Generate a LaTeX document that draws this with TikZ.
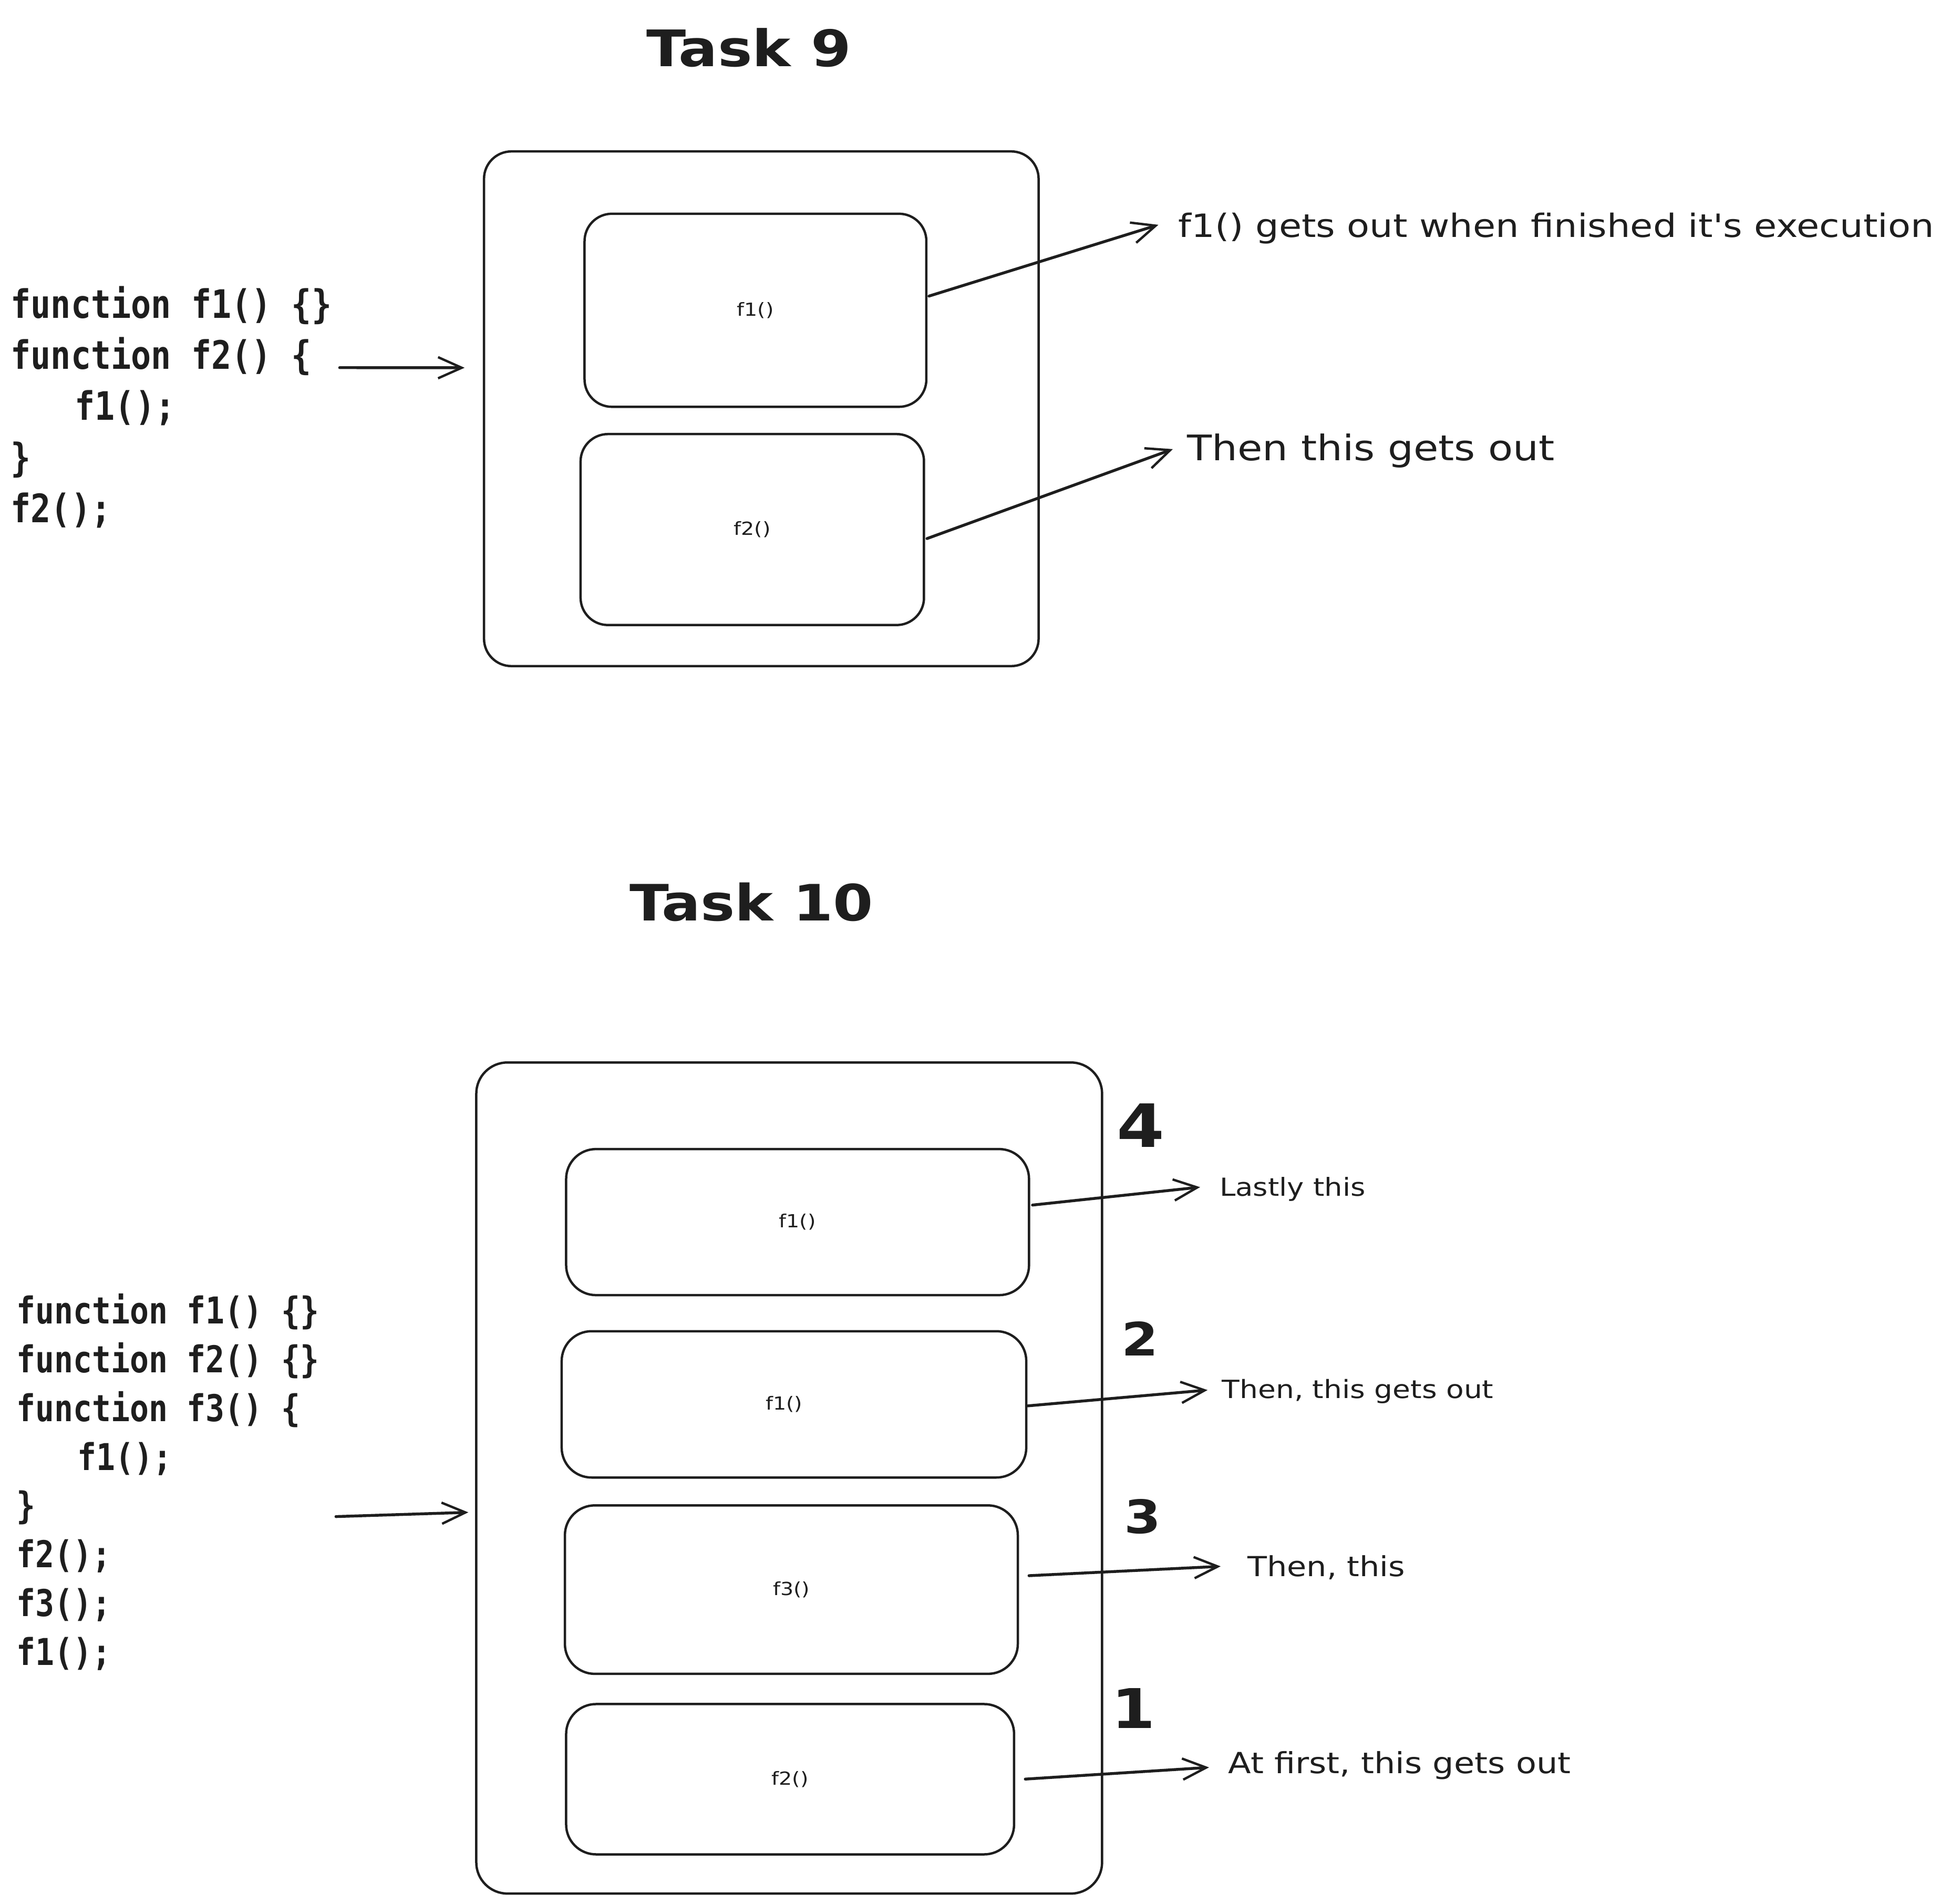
\documentclass[tikz,border=0pt]{standalone}
\usepackage{fontspec}
\newfontfamily\hand[FakeStretch=1.15]{DejaVu Sans}
\newfontfamily\codefont[FakeStretch=0.85]{DejaVu Sans Mono}
\usetikzlibrary{arrows.meta}
\definecolor{ink}{HTML}{1E1E1E}
\tikzset{
  stackbox/.style={draw=ink, line width=1.9pt, rounded corners=22pt, inner sep=0pt,
    font=\hand\fontsize{14.5}{16}\selectfont, text=ink},
  lbl/.style={inner sep=0pt, anchor=base west, text=ink},
  num/.style={inner sep=0pt, anchor=center, text=ink},
  codeA/.style={inner sep=0pt, anchor=base west, text=ink, font=\codefont\bfseries\fontsize{31.5}{40}\selectfont},
  codeB/.style={inner sep=0pt, anchor=base west, text=ink, font=\codefont\bfseries\fontsize{29.7}{38}\selectfont},
  flow/.style={draw=ink, line width=2.3pt, line cap=round,
    -{Straight Barb[length=19pt,width=17pt,line width=1.9pt]}},
}
\begin{document}
\begin{tikzpicture}[x=1pt,y=-1pt]
\fill[white] (0,0) rectangle (1568,1530.4);
\useasboundingbox (0,0) rectangle (1568,1530.4);

% ---------------- Task 9 ----------------
\node[inner sep=0pt, anchor=base, text=ink, font=\hand\bfseries\fontsize{40.5}{46}\selectfont] (t9title) at (602,53.3) {Task 9};

\node[stackbox, minimum width=445.7pt, minimum height=413.7pt] (t9outer) at (611.85,328.55) {};
\node[stackbox, minimum width=274.7pt, minimum height=155.2pt] (t9f1) at (607.15,249.4) {f1()};
\node[stackbox, minimum width=276pt, minimum height=153.5pt] (t9f2) at (604.6,425.65) {f2()};

\node[codeA] (c9a) at (8.5,255.5) {function f1() \{\}};
\node[codeA] (c9b) at (8.5,296.6) {function f2() \{};
\node[codeA] (c9c) at (60,337.7) {f1();};
\node[codeA] (c9d) at (8.5,378.8) {\}};
\node[codeA] (c9e) at (8.5,420) {f2();};

\coordinate (c9arrS) at (273,295.5);
\coordinate (c9arrE) at (373.4,295.6);
\draw[flow] (c9arrS) -- (c9arrE);

\node[lbl, font=\hand\fontsize{25.8}{30}\selectfont] (t9l1) at (947,190.7) {f1() gets out when finished it's execution};
\node[lbl, font=\hand\fontsize{28.3}{32}\selectfont] (t9l2) at (954,370) {Then this gets out};

\coordinate (t9a1s) at (746.6,238);
\coordinate (t9a1e) at (931,180.7);
\coordinate (t9a2s) at (745,432.9);
\coordinate (t9a2e) at (942.6,361);
\draw[flow] (t9a1s) -- (t9a1e);
\draw[flow] (t9a2s) -- (t9a2e);

% ---------------- Task 10 ----------------
\node[inner sep=0pt, anchor=base, text=ink, font=\hand\bfseries\fontsize{40.3}{46}\selectfont] (t10title) at (604,740) {Task 10};

\node[stackbox, rounded corners=25pt, minimum width=502.9pt, minimum height=668pt] (t10outer) at (634.25,1188) {};
\node[stackbox, rounded corners=24pt, minimum width=372pt, minimum height=117.4pt] (t10a) at (641,982.3) {f1()};
\node[stackbox, rounded corners=24pt, minimum width=373.4pt, minimum height=117.6pt] (t10b) at (638.1,1128.8) {\hspace{-16pt}f1()};
\node[stackbox, rounded corners=24pt, minimum width=364pt, minimum height=135.4pt] (t10c) at (636,1277.7) {f3()};
\node[stackbox, rounded corners=24pt, minimum width=360pt, minimum height=120.8pt] (t10d) at (635,1430.1) {f2()};

\node[num, font=\hand\bfseries\fontsize{48}{54}\selectfont] (n4) at (916.9,904.6) {4};
\node[num, font=\hand\bfseries\fontsize{37}{42}\selectfont] (n2) at (916,1075.8) {2};
\node[num, font=\hand\bfseries\fontsize{37}{42}\selectfont] (n3) at (918.5,1219) {3};
\node[num, font=\hand\bfseries\fontsize{44}{50}\selectfont] (n1) at (911,1373) {1};

\node[lbl, font=\hand\fontsize{20}{24}\selectfont] (t10l4) at (980,961.3) {Lastly this};
\node[lbl, font=\hand\fontsize{20.2}{24}\selectfont] (t10l2) at (982,1124) {Then, this gets out};
\node[lbl, font=\hand\fontsize{22.2}{26}\selectfont] (t10l3) at (1002.5,1267) {Then, this};
\node[lbl, font=\hand\fontsize{23.4}{27}\selectfont] (t10l1) at (987,1425.6) {At first, this gets out};

\coordinate (t10aS) at (829.8,968.6);
\coordinate (t10aE) at (964.5,954.2);
\coordinate (t10bS) at (826,1130);
\coordinate (t10bE) at (970.5,1117.3);
\coordinate (t10cS) at (827,1266.5);
\coordinate (t10cE) at (981,1259);
\coordinate (t10dS) at (824,1430);
\coordinate (t10dE) at (971.7,1420.6);
\draw[flow] (t10aS) -- (t10aE);
\draw[flow] (t10bS) -- (t10bE);
\draw[flow] (t10cS) -- (t10cE);
\draw[flow] (t10dS) -- (t10dE);

\node[codeB] (c10a) at (13.2,1064) {function f1() \{\}};
\node[codeB] (c10b) at (13.2,1103.2) {function f2() \{\}};
\node[codeB] (c10c) at (13.2,1142.4) {function f3() \{};
\node[codeB] (c10d) at (62,1181.6) {f1();};
\node[codeB] (c10e) at (13.2,1220.8) {\}};
\node[codeB] (c10f) at (13.2,1260) {f2();};
\node[codeB] (c10g) at (13.2,1299.2) {f3();};
\node[codeB] (c10h) at (13.2,1338.4) {f1();};

\coordinate (c10arrS) at (270,1219);
\coordinate (c10arrE) at (376.4,1215.6);
\draw[flow] (c10arrS) -- (c10arrE);
\end{tikzpicture}
\end{document}
